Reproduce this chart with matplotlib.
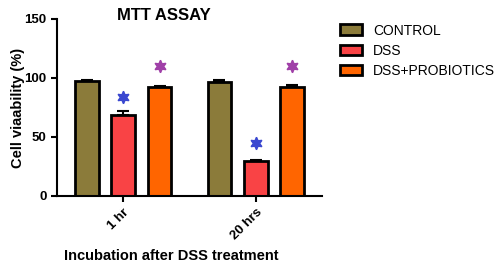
import numpy as np
import matplotlib.pyplot as plt

plt.rcParams['font.family'] = ['Liberation Sans', 'DejaVu Sans']

groups = ['1 hr', '20 hrs']
series = ['CONTROL', 'DSS', 'DSS+PROBIOTICS']
colors = ['#8B7B3A', '#F94345', '#FF6500']
values = [[97.5, 96.5], [69.0, 30.0], [92.5, 92.5]]
errors = [[1.0, 1.5], [3.0, 0.8], [0.8, 1.2]]
# significance stars above DSS and DSS+PROBIOTICS bars
stars_dss = [84, 45]
stars_prob = [110.5, 110.5]

fig = plt.figure(figsize=(5, 2.71), dpi=100)
ax = fig.add_axes([0.114, 0.277, 0.53, 0.653])

x = np.arange(len(groups))
width = 0.18
offsets = [-0.274, 0, 0.274]
for i, name in enumerate(series):
    ax.bar(x + offsets[i], values[i], width, color=colors[i], edgecolor='black',
           linewidth=2, label=name, zorder=2)
    ax.errorbar(x + offsets[i], values[i], yerr=[[0] * len(groups), errors[i]],
                fmt='none', ecolor='black', elinewidth=1.5, capsize=4, capthick=1.5, zorder=1)

ax.plot(x + offsets[1], stars_dss, linestyle='none', marker=(6, 1, 0), markersize=9,
        color='#3A48D0')
ax.plot(x + offsets[2], stars_prob, linestyle='none', marker=(6, 1, 0), markersize=9,
        color='#A040A8')

ax.set_xlim(-0.5, 1.5)
ax.set_ylim(0, 150)
ax.set_yticks([0, 50, 100, 150])
ax.set_xticks(x)
ax.set_xticklabels(groups, rotation=45, ha='right', rotation_mode='anchor')
for lab in ax.get_xticklabels() + ax.get_yticklabels():
    lab.set_fontweight('bold')
    lab.set_fontsize(9.5)
ax.spines['top'].set_visible(False)
ax.spines['right'].set_visible(False)
ax.spines['left'].set_linewidth(1.5)
ax.spines['bottom'].set_linewidth(1.5)
ax.tick_params(width=1.5, length=4)

fig.text(164 / 500, 1 - 20 / 271, 'MTT ASSAY', fontsize=12, fontweight='bold',
         ha='center', va='baseline')
ax.set_ylabel('Cell viaability (%)', fontsize=10.5, fontweight='bold')
ax.yaxis.set_label_coords(-0.12, 0.5)
ax.set_xlabel('Incubation after DSS treatment', fontsize=10.5, fontweight='bold')
ax.xaxis.set_label_coords(0.43, -0.3)

ax.legend(loc='upper left', bbox_to_anchor=(1.02, 1.045), frameon=False, fontsize=10,
          handlelength=1.6, handleheight=0.8, labelspacing=0.45)

plt.savefig('out.png', dpi=100)
